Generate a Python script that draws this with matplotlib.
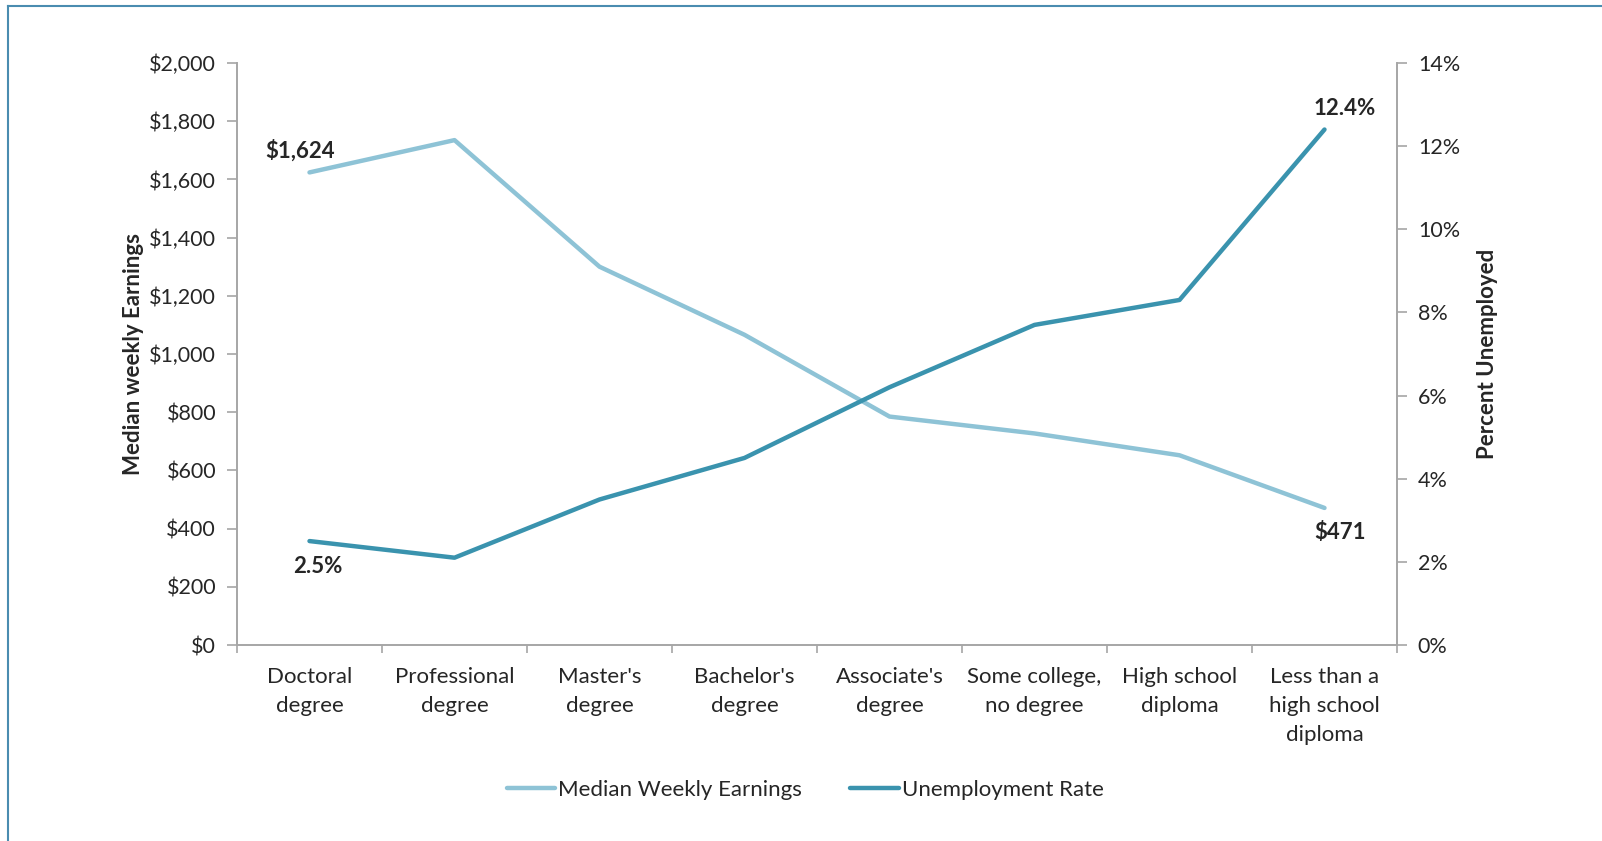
import matplotlib
matplotlib.use("Agg")
import matplotlib.pyplot as plt
from matplotlib.lines import Line2D
from matplotlib.ticker import FuncFormatter

plt.rcParams['font.family'] = ['Lato', 'DejaVu Sans']

categories = ["Doctoral\ndegree", "Professional\ndegree", "Master's\ndegree",
              "Bachelor's\ndegree", "Associate's\ndegree", "Some college,\nno degree",
              "High school\ndiploma", "Less than a\nhigh school\ndiploma"]
earnings = [1624, 1735, 1300, 1066, 785, 727, 652, 471]
unemployment = [2.5, 2.1, 3.5, 4.5, 6.2, 7.7, 8.3, 12.4]
earn_ticks = list(range(0, 2001, 200))
unemp_ticks = list(range(0, 15, 2))

c_earn = "#8EC3D6"
c_unemp = "#3A93AE"
c_axis = "#A6A6A6"
c_text = "#262626"

W, H = 1602, 841
fig = plt.figure(figsize=(W / 100, H / 100), dpi=100)

left, right, top, bottom = 237, 1397, 63, 645
ax = fig.add_axes([left / W, 1 - bottom / H, (right - left) / W, (bottom - top) / H])
ax2 = ax.twinx()

x = list(range(len(categories)))
ax.plot(x, earnings, color=c_earn, lw=3.2, solid_capstyle='round', zorder=3)
ax2.plot(x, unemployment, color=c_unemp, lw=3.2, solid_capstyle='round', zorder=3)

ax.set_xlim(-0.5, len(categories) - 0.5)
ax.set_ylim(0, 2000)
ax2.set_ylim(0, 14)
ax.set_yticks(earn_ticks)
ax.yaxis.set_major_formatter(FuncFormatter(lambda v, p: f"${v:,.0f}"))
ax2.set_yticks(unemp_ticks)
ax2.yaxis.set_major_formatter(FuncFormatter(lambda v, p: f"{v:.0f}%"))

# category labels centred, ticks on category boundaries
ax.set_xticks(x)
ax.set_xticklabels(categories, fontsize=16, color=c_text, linespacing=1.55, va='top')
ax.tick_params(axis='x', which='major', length=0, pad=16)
ax.set_xticks([i - 0.5 for i in range(len(categories) + 1)], minor=True)
ax.tick_params(axis='x', which='minor', length=6, color=c_axis, width=1.2, direction='out')

ax.tick_params(axis='y', length=7, color=c_axis, width=1.2, labelsize=15.5,
               labelcolor=c_text, pad=8)
ax2.tick_params(axis='y', length=7, color=c_axis, width=1.2, labelsize=15.5,
                labelcolor=c_text, pad=8)

for a in (ax, ax2):
    for s in a.spines.values():
        s.set_visible(False)
ax.spines['left'].set_visible(True)
ax.spines['bottom'].set_visible(True)
ax2.spines['right'].set_visible(True)
for s in (ax.spines['left'], ax.spines['bottom'], ax2.spines['right']):
    s.set_color(c_axis)
    s.set_linewidth(1.4)

ax.set_ylabel("Median weekly Earnings", fontsize=16, fontweight='bold', color=c_text, labelpad=4)
ax2.set_ylabel("Percent Unemployed", fontsize=16, fontweight='bold', color=c_text, labelpad=12)

# endpoint value labels
ax.annotate(f"${earnings[0]:,}", (x[0], earnings[0]), xytext=(-9, 22),
            textcoords='offset pixels', ha='center', va='center',
            fontsize=16, fontweight='bold', color=c_text)
ax.annotate(f"${earnings[-1]:,}", (x[-1], earnings[-1]), xytext=(16, -25),
            textcoords='offset pixels', ha='center', va='center',
            fontsize=16, fontweight='bold', color=c_text)
ax2.annotate(f"{unemployment[0]}%", (x[0], unemployment[0]), xytext=(8, -25),
             textcoords='offset pixels', ha='center', va='center',
             fontsize=16, fontweight='bold', color=c_text)
ax2.annotate(f"{unemployment[-1]}%", (x[-1], unemployment[-1]), xytext=(20, 21),
             textcoords='offset pixels', ha='center', va='center',
             fontsize=16, fontweight='bold', color=c_text)

handles = [Line2D([], [], color=c_earn, lw=3.2, solid_capstyle='round'),
           Line2D([], [], color=c_unemp, lw=3.2, solid_capstyle='round')]
fig.legend(handles, ["Median Weekly Earnings", "Unemployment Rate"],
           loc='center', bbox_to_anchor=(805 / W, 1 - 790 / H), ncol=2, frameon=False,
           fontsize=16, handlelength=2.2, handletextpad=0.1, columnspacing=2.2,
           labelcolor=c_text)

# frame border along the top and left of the figure
border = "#4A8CB0"
fig.add_artist(Line2D([8 / W, 8 / W], [0, 1 - 6 / H], transform=fig.transFigure,
                      color=border, lw=1.5))
fig.add_artist(Line2D([8 / W, 1], [1 - 6 / H, 1 - 6 / H], transform=fig.transFigure,
                      color=border, lw=1.5))

fig.savefig("out.png", dpi=100)
